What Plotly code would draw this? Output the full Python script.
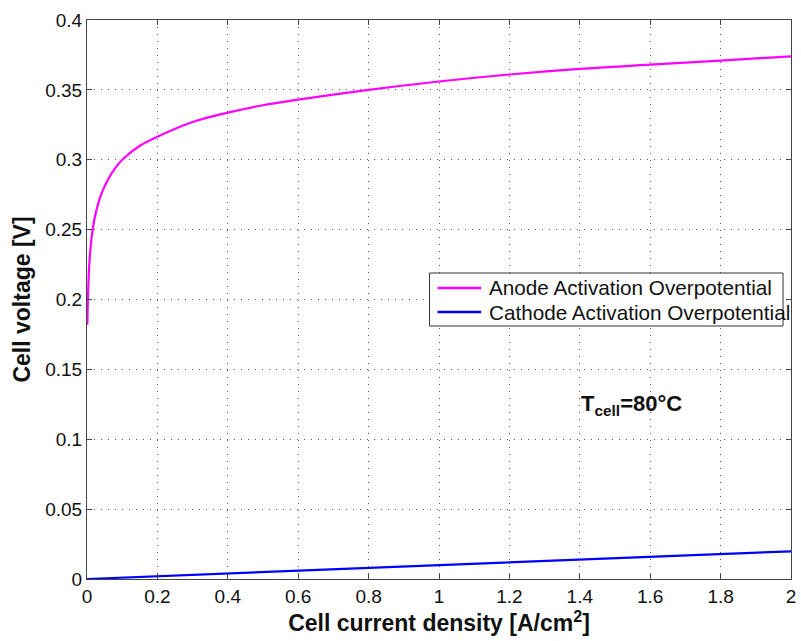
import plotly.graph_objects as go

# Anode activation overpotential
anode_x = [0.001, 0.002, 0.003, 0.005, 0.007, 0.01, 0.015, 0.02, 0.03, 0.04, 0.06, 0.08,
           0.1, 0.15, 0.2, 0.3, 0.4, 0.5, 0.6, 0.8, 1.0, 1.2, 1.4, 1.6, 1.8, 2.0]
anode_y = [0.182, 0.194, 0.204, 0.218, 0.227, 0.237, 0.248, 0.256, 0.267, 0.275, 0.286, 0.294,
           0.300, 0.310, 0.3165, 0.327, 0.3337, 0.339, 0.343, 0.350, 0.356, 0.361, 0.365, 0.368, 0.371, 0.374]

# Cathode activation overpotential
cathode_x = [0.0, 0.5, 1.0, 1.5, 2.0]
cathode_y = [0.0, 0.005, 0.0099, 0.0149, 0.0198]

series_names = ["Anode Activation Overpotential", "Cathode Activation Overpotential"]
series_colors = ["#FF00FF", "#0000FF"]

x_ticks = [0, 0.2, 0.4, 0.6, 0.8, 1, 1.2, 1.4, 1.6, 1.8, 2]
x_labels = ["0", "0.2", "0.4", "0.6", "0.8", "1", "1.2", "1.4", "1.6", "1.8", "2"]
y_ticks = [0, 0.05, 0.1, 0.15, 0.2, 0.25, 0.3, 0.35, 0.4]
y_labels = ["0", "0.05", "0.1", "0.15", "0.2", "0.25", "0.3", "0.35", "0.4"]

font = "Liberation Sans, Arial, sans-serif"

fig = go.Figure()
fig.add_trace(go.Scatter(x=anode_x, y=anode_y, mode="lines", name=series_names[0],
                         line=dict(color=series_colors[0], width=2.2, shape="spline", smoothing=1.0)))
fig.add_trace(go.Scatter(x=cathode_x, y=cathode_y, mode="lines", name=series_names[1],
                         line=dict(color=series_colors[1], width=2.2)))

axis_common = dict(showline=True, linecolor="#444444", linewidth=1, mirror="ticks",
                   ticks="inside", ticklen=5, tickcolor="#444444",
                   showgrid=True, gridcolor="#555555", griddash="1px,6px", gridwidth=1,
                   zeroline=False, ticklabeloverflow="allow",
                   tickfont=dict(family=font, size=19, color="#111111"))

fig.update_xaxes(range=[0, 2], tickvals=x_ticks, ticktext=x_labels,
                 title=dict(text="<b>Cell current density [A/cm<sup>2</sup>]</b>",
                            font=dict(family=font, size=23, color="#111111"), standoff=6),
                 **axis_common)
fig.update_yaxes(range=[0, 0.4], tickvals=y_ticks, ticktext=y_labels,
                 title=dict(text="<b>Cell voltage [V]</b>",
                            font=dict(family=font, size=23, color="#111111"), standoff=8),
                 **axis_common)

fig.add_annotation(x=1.546, y=0.1245, xref="x", yref="y",
                   text="<b>T<sub>cell</sub>=80°C</b>", showarrow=False,
                   font=dict(family=font, size=22, color="#111111"))

# Legend box drawn in paper coordinates (MATLAB-style compact legend)
leg_x0, leg_x1, leg_y0, leg_y1 = 0.4866, 0.9887, 0.4526, 0.5474
row_y = [0.5206, 0.4776]
fig.add_shape(type="rect", xref="paper", yref="paper", x0=leg_x0, x1=leg_x1, y0=leg_y0, y1=leg_y1,
              line=dict(color="#333333", width=1), fillcolor="white", layer="above")
for name, color, ry in zip(series_names, series_colors, row_y):
    fig.add_shape(type="line", xref="paper", yref="paper", x0=0.4979, x1=0.5599, y0=ry, y1=ry,
                  line=dict(color=color, width=2.5), layer="above")
    fig.add_annotation(x=0.5684, y=ry, xref="paper", yref="paper", text=name, showarrow=False,
                       xanchor="left", yanchor="middle",
                       font=dict(family=font, size=20.7, color="#111111"))

fig.update_layout(
    width=801, height=641,
    margin=dict(l=87, r=5, t=20, b=62),
    paper_bgcolor="white", plot_bgcolor="white",
    showlegend=False,
)

fig.write_html("out.html")
